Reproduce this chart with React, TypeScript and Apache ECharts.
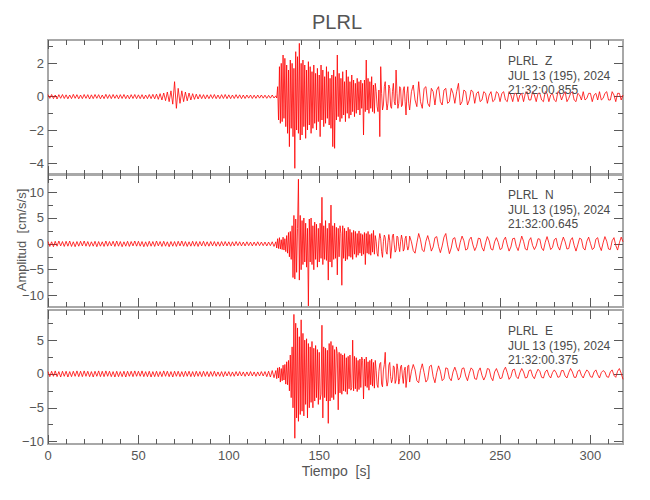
import React, { useEffect, useRef } from "react";
import * as echarts from "echarts";

// ---- data ----
const X_MAX = 318;
const PRE_STEP = 1; // seconds, from t = 0
const STRONG_STEP = 0.5; // seconds, strong motion segment
const CODA_STEP = 1; // seconds, coda segment

const station = "PLRL";
const components = ["Z", "N", "E"];
const dateLabel = "JUL 13 (195), 2024";
const startTimes = ["21:32:00.855", "21:32:00.645", "21:32:00.375"];

const zPre = [
  0.12, -0.1, 0.13, -0.12, 0.1, -0.14, 0.12, -0.1, 0.13, -0.11,
  0.11, -0.13, 0.1, -0.12, 0.14, -0.1, 0.12, -0.13, 0.1, -0.12,
  0.13, -0.1, 0.12, -0.14, 0.11, -0.12, 0.13, -0.1, 0.12, -0.13,
  0.1, -0.12, 0.14, -0.11, 0.12, -0.12, 0.13, -0.1, 0.11, -0.13,
  0.12, -0.11, 0.13, -0.12, 0.1, -0.13, 0.12, -0.11, 0.13, -0.12,
  0.11, -0.12, 0.12, -0.13, 0.1, -0.12, 0.13, -0.12, 0.14, -0.13,
  0.15, -0.16, 0.18, -0.2, 0.22, -0.24, 0.28, -0.3, 0.35, -0.45,
  0.9, -0.7, 0.5, -0.4, 0.35, -0.3, 0.28, -0.25, 0.22, -0.2,
  0.18, -0.16, 0.15, -0.14, 0.13, -0.12, 0.12, -0.13, 0.11, -0.12,
  0.12, -0.11, 0.13, -0.12, 0.1, -0.12, 0.12, -0.11, 0.13, -0.12,
  0.11, -0.12, 0.1, -0.11, 0.12, -0.1, 0.11, -0.12, 0.1, -0.11,
  0.1, -0.09, 0.1, -0.11, 0.09, -0.1, 0.1, -0.09, 0.1, -0.09,
  0.09, -0.1, 0.08, -0.09, 0.1, -0.08,
];
const zStrong = [
  0.05, -0.08, 0.6, -1.4, 1.8, -1.6, 2.0, -1.5, 2.5, -1.3,
  2.3, -1.8, 1.9, -2.2, 1.6, -3.0, 2.2, -1.9, 2.0, -2.4,
  1.7, -4.3, 2.7, -2.0, 2.4, -2.2, 3.2, -2.6, 2.0, -2.3,
  2.2, -1.8, 1.9, -2.5, 1.6, -2.0, 2.1, -1.7, 1.8, -2.2,
  1.5, -1.9, 1.9, -1.6, 1.4, -2.0, 1.7, -1.5, 1.3, -2.4,
  1.9, -1.4, 1.6, -1.8, 1.2, -1.6, 1.8, -1.3, 1.5, -1.7,
  1.1, -1.9, 1.3, -3.0, 1.6, -3.1, 1.2, -1.4, 2.5, -1.2,
  1.4, -1.5, 1.1, -1.3, 1.5, -1.1, 0.9, -1.5, 1.6, -1.0,
  1.2, -1.3, 0.9, -1.1, 1.3, -0.9, 1.0, -1.2, 0.8, -1.0,
  1.1, -0.8, 0.9, -1.1, 1.0, -0.7, 0.8, -2.3, 1.0, -0.9,
  2.2, -0.8, 1.1, -1.0, 0.9, -0.7, 1.2, -0.9, 0.7, -1.0,
  0.8, 0.3, -0.6, -0.9, 0.4, -2.4, 1.8, 0.2, -0.8, -0.5,
  0.6, 0.9, -0.2, -0.8, -0.4, 0.7, 0.5, -0.6, -0.7, 0.3,
  0.8, -0.3, -0.5, 1.6, 0.2, -0.7, -0.4, 0.6, 0.5, -0.6,
  -0.5, 0.4, 0.6, -0.3, -1.1, 0.2, 0.6, -0.4,
];
const zCoda = [
  -0.8, 0.3, 0.7, -0.2, -0.6, 0.9, -0.3, -0.7, 0.5, 0.6,
  -0.4, -0.6, 0.5, 0.3, -0.5, 0.4, 0.6, -0.3, -0.5, 0.4,
  0.5, -0.4, -0.3, 0.5, 0.2, -0.4, 0.3, 0.8, -0.5, -0.3,
  0.4, 0.3, -0.5, -0.2, 0.4, 0.3, -0.4, 0.2, 0.3, -0.3,
  -0.2, 0.3, 0.2, -0.4, 0.1, 0.3, -0.3, -0.2, 0.3, 0.2,
  -0.3, 0.2, 0.3, -0.2, -0.3, 0.3, 0.1, -0.3, 0.2, 0.2,
  -0.3, 0.1, 0.2, -0.3, 0.2, 0.3, -0.2, -0.2, 0.3, 0.1,
  -0.3, 0.2, 0.2, -0.2, -0.3, 0.3, 0.2, -0.3, 0.1, 0.2,
  -0.2, -0.3, 0.3, 0.2, -0.2, 0.1, 0.3, -0.3, -0.1, 0.2,
  0.3, -0.2, -0.3, 0.2, 0.1, -0.2, 0.3, -0.2, -0.1, 0.2,
  0.2, -0.3, 0.1, 0.2, -0.2, 0.3, -0.2, -0.1, 0.2, 0.3,
  -0.2, -0.2, 0.3, 0.1, -0.3, 0.2, 0.2, -0.2, 0.1,
];

const nPre = [
  0.45, -0.5, 0.4, -0.55, 0.5, -0.45, 0.55, -0.4, 0.45, -0.5,
  0.5, -0.45, 0.55, -0.5, 0.4, -0.55, 0.45, -0.45, 0.5, -0.4,
  0.55, -0.45, 0.45, -0.5, 0.4, -0.45, 0.5, -0.55, 0.45, -0.45,
  0.4, -0.5, 0.55, -0.45, 0.45, -0.4, 0.5, -0.5, 0.55, -0.45,
  0.45, -0.55, 0.4, -0.45, 0.5, -0.5, 0.45, -0.4, 0.55, -0.45,
  0.5, -0.45, 0.45, -0.55, 0.4, -0.5, 0.5, -0.45, 0.45, -0.5,
  0.55, -0.4, 0.45, -0.5, 0.5, -0.45, 0.4, -0.55, 0.45, -0.45,
  0.45, -0.5, 0.5, -0.4, 0.55, -0.45, 0.45, -0.5, 0.4, -0.45,
  0.5, -0.45, 0.45, -0.5, 0.45, -0.4, 0.5, -0.45, 0.4, -0.45,
  0.45, -0.4, 0.45, -0.45, 0.4, -0.45, 0.45, -0.4, 0.45, -0.4,
  0.4, -0.45, 0.4, -0.4, 0.45, -0.35, 0.4, -0.4, 0.35, -0.4,
  0.4, -0.35, 0.35, -0.4, 0.35, -0.35, 0.4, -0.35, 0.35, -0.35,
  0.35, -0.4, 0.35, -0.35, 0.4, -0.5,
];
const nStrong = [
  0.4, -0.8, 1.0, -0.9, 1.2, -1.0, 0.8, -1.1, 1.3, -1.2,
  1.0, -1.5, 1.6, -1.8, 2.2, -2.5, 2.4, -3.0, 3.5, -6.5,
  5.5, -6.8, 4.8, -5.5, 3.0, 12.5, -7.0, 5.5, -5.0, 4.5,
  -4.0, 5.0, -3.5, 4.0, -4.5, 3.0, -12.0, 4.8, -3.5, 5.0,
  -4.0, 3.5, -5.0, 4.2, -3.0, 3.8, -4.5, 3.0, -3.5, 4.0,
  -2.8, 9.0, -4.0, 3.5, -3.0, 4.5, -3.2, 3.0, -7.0, 4.0,
  -3.5, 7.5, -4.5, 3.5, -3.0, 4.0, -2.8, 3.2, -6.0, 3.0,
  -2.5, 3.5, 2.0, -8.0, 3.5, -2.8, 3.0, -3.3, 2.5, -3.0,
  3.2, -2.4, 2.8, -2.6, 2.2, -3.0, 2.6, -2.0, 2.4, -2.6,
  2.0, -2.2, 2.5, -1.8, 2.0, -2.3, 1.8, -2.0, 2.2, -4.0,
  2.0, -1.8, 2.4, -2.0, 1.8, -2.2, 2.0, -1.6, 2.6, -2.0,
  1.6, 0.5, -1.8, -2.4, 0.6, 2.0, 1.0, -1.5, -2.6, 0.4,
  1.7, 1.2, -1.5, -2.0, 0.3, 1.8, 0.6, -2.8, -1.0, 1.6,
  1.9, -0.2, -1.6, -1.2, 1.5, 1.3, -0.5, -1.5, 0.4, 1.7,
  0.8, -1.4, -1.0, 1.0, 1.5, -0.3, -1.2, -0.6,
];
const nCoda = [
  1.5, 0.4, -1.3, -1.8, 0.2, 2.0, 0.8, -1.2, -1.5, 0.5,
  1.6, 0.3, -1.4, -0.6, 1.2, 1.4, -0.5, -1.7, -0.4, 1.3,
  2.0, -0.2, -1.9, -0.8, 1.0, 1.2, -0.6, -1.4, 0.3, 1.5,
  0.6, -1.2, -1.0, 0.8, 1.3, -0.2, -1.3, -0.5, 1.1, 1.0,
  -0.7, -1.4, 0.2, 1.4, 0.6, -1.0, -1.2, 0.4, 1.2, 0.3,
  -1.1, -0.9, 0.7, 1.3, -0.2, -1.4, -0.6, 1.0, 1.1, -0.5,
  -1.3, 0.1, 1.5, 0.5, -1.0, -1.2, 0.6, 1.2, -0.3, -1.1,
  -0.4, 1.0, 0.9, -0.8, -1.3, 0.3, 1.4, 0.2, -1.1, -0.7,
  0.8, 1.1, -0.5, -1.2, 0.2, 1.3, 0.4, -1.0, -0.9, 0.7,
  1.2, -0.3, -1.4, -0.2, 1.1, 0.9, -0.8, -1.2, 0.5, 1.3,
  0.1, -1.1, -0.8, 0.9, 1.2, -0.4, -1.3, 0.2, 1.4, 0.5,
  -1.0, -1.1, 0.6, 1.2, -0.3, -1.2, 0.2, 1.3, 0.4,
];

const ePre = [
  0.35, -0.4, 0.4, -0.35, 0.45, -0.4, 0.35, -0.45, 0.4, -0.35,
  0.4, -0.45, 0.35, -0.4, 0.4, -0.35, 0.45, -0.4, 0.4, -0.4,
  0.45, -0.35, 0.4, -0.4, 0.35, -0.45, 0.4, -0.35, 0.45, -0.4,
  0.4, -0.4, 0.45, -0.35, 0.4, -0.4, 0.35, -0.45, 0.4, -0.4,
  0.35, -0.4, 0.4, -0.45, 0.4, -0.35, 0.4, -0.4, 0.45, -0.35,
  0.4, -0.35, 0.45, -0.4, 0.35, -0.4, 0.4, -0.45, 0.35, -0.4,
  0.4, -0.4, 0.35, -0.4, 0.45, -0.35, 0.4, -0.4, 0.35, -0.45,
  0.4, -0.35, 0.4, -0.4, 0.35, -0.4, 0.4, -0.35, 0.4, -0.4,
  0.35, -0.4, 0.4, -0.35, 0.35, -0.4, 0.4, -0.35, 0.35, -0.4,
  0.35, -0.35, 0.4, -0.35, 0.3, -0.35, 0.35, -0.4, 0.35, -0.3,
  0.35, -0.35, 0.3, -0.35, 0.35, -0.3, 0.35, -0.3, 0.3, -0.35,
  0.3, -0.3, 0.35, -0.3, 0.3, -0.35, 0.3, -0.3, 0.35, -0.3,
  0.35, -0.4, 0.4, -0.45, 0.5, -0.55,
];
const eStrong = [
  0.5, -0.7, 0.9, -0.6, 1.0, -1.2, 0.8, -1.0, 1.3, -0.9,
  1.4, -1.5, 1.8, -1.6, 2.0, -2.5, 2.8, -3.5, 4.0, -5.0,
  8.8, -9.5, 7.5, -6.5, 6.8, -7.0, 5.5, -6.0, 8.0, -5.5,
  6.0, -6.2, 5.0, -4.5, 5.2, -6.5, 4.5, -5.0, 4.0, -4.2,
  4.8, -5.0, 3.8, -4.0, 4.2, -3.5, 3.6, -4.5, 3.2, -3.8,
  -3.0, 7.2, -6.5, 4.0, -3.5, 3.8, -4.0, 3.5, -7.3, 4.5,
  -4.0, 4.8, -3.5, 4.2, -3.8, 3.6, -3.0, 4.0, 3.0, -5.3,
  3.2, -2.8, 3.0, -3.0, 2.8, -2.5, 3.0, -2.6, 2.4, -3.0,
  2.6, -2.2, 2.8, -2.4, -2.0, 5.0, -2.5, 2.6, -2.2, 2.4,
  -2.6, 2.0, -2.3, 2.2, -2.0, 2.5, 2.0, -3.7, 2.2, -1.8,
  2.5, -2.0, 1.8, -2.4, 2.0, -1.6, 2.2, -1.8, 1.7, -2.1,
  2.0, 0.5, -1.6, -2.0, 0.4, 1.5, 1.7, -1.5, -1.9, 0.6,
  1.4, 3.2, -0.6, -1.8, -1.2, 1.3, 1.7, -0.4, -1.3, -0.8,
  1.2, 1.0, -1.4, -0.9, 1.5, 0.6, -1.5, -0.7, 1.1, 1.3,
  -0.3, -1.4, 0.5, 1.0, -2.0, -0.6, 1.2, 1.3,
];
const eCoda = [
  -1.2, 0.4, 1.4, 0.6, -1.0, -1.3, 0.5, 1.5, 0.2, -1.2,
  -0.8, 1.1, 1.3, -0.4, -1.3, 0.2, 1.2, 0.4, -1.0, -0.7,
  0.9, 0.8, -0.6, -1.0, 0.3, 1.0, 0.2, -0.9, -0.5, 0.8,
  0.9, -0.3, -1.0, 0.1, 0.9, 0.6, -0.7, -0.8, 0.4, 0.9,
  -0.2, -0.9, -0.3, 0.8, 0.7, -0.5, -1.0, 0.3, 0.8, 0.1,
  -0.7, -0.6, 0.5, 1.0, 0.2, -0.8, -0.4, 0.6, 0.7, -0.4,
  -0.7, 0.2, 0.8, 0.3, -0.6, -0.5, 0.5, 0.6, -0.3, -0.7,
  0.1, 0.7, 0.4, -0.5, -0.6, 0.3, 0.6, -0.2, -0.6, 0.2,
  0.6, 0.2, -0.5, -0.4, 0.5, 0.5, -0.3, -0.6, 0.2, 0.8,
  0.3, -0.5, -0.5, 0.4, 0.6, -0.2, -0.6, 0.1, 0.6, 0.3,
  -0.4, -0.5, 0.3, 0.6, -0.1, -0.6, 0.2, 0.5, 0.3, -0.4,
  -0.5, 0.3, 0.6, -0.2, -0.5, 0.4, 0.8, 0.1, -0.8,
];

// axis ticks and labels
const xMajor = [0, 50, 100, 150, 200, 250, 300];
const xMinor = [10, 20, 30, 40, 60, 70, 80, 90, 110, 120, 130, 140, 160, 170, 180, 190, 210, 220, 230, 240, 260, 270, 280, 290, 310];
const zMajor = [-4, -2, 0, 2];
const zMinor = [-3, -1, 1, 3];
const nMajor = [-10, -5, 0, 5, 10];
const nMinor = [-7.5, -2.5, 2.5, 7.5, 12.5];
const eMajor = [-10, -5, 0, 5];
const eMinor = [-7.5, -2.5, 2.5, 7.5];
const zRange = [-4.7, 3.4];
const nRange = [-12.2, 13.5];
const eRange = [-10.35, 9.45];

const FONT = "'Liberation Sans', Arial, sans-serif";
const TEXT = "#555555";
const FRAME = "#a8a8a8";
const TICK = "#5a5a5a";

function buildTrace(pre: number[], strong: number[], coda: number[]) {
  const pts: number[][] = [];
  let t = 0;
  pre.forEach((v) => { pts.push([t, v]); t += PRE_STEP; });
  strong.forEach((v) => { pts.push([t, v]); t += STRONG_STEP; });
  coda.forEach((v) => { pts.push([t, v]); t += CODA_STEP; });
  return pts;
}

const fmt = (v: number) => String(v).replace("-", "\u2212");

export default function App() {
  const ref = useRef<HTMLDivElement>(null);
  useEffect(() => {
    if (!ref.current) return;
    const chart = echarts.init(ref.current, null, { renderer: "svg" });

    const grids = [
      { left: 48, top: 40, width: 575, height: 135 },
      { left: 48, top: 174, width: 575, height: 133 },
      { left: 48, top: 310, width: 575, height: 134 },
    ];
    const traces = [
      buildTrace(zPre, zStrong, zCoda),
      buildTrace(nPre, nStrong, nCoda),
      buildTrace(ePre, eStrong, eCoda),
    ];
    const yMajors = [zMajor, nMajor, eMajor];
    const yMinors = [zMinor, nMinor, eMinor];
    const yRanges = [zRange, nRange, eRange];

    const xAxes: any[] = [];
    const yAxes: any[] = [];
    const labelStyle = { color: TEXT, fontSize: 13, fontFamily: FONT };
    const noLine = { show: false, onZero: false };
    grids.forEach((_, gi) => {
      const xb = { type: "value", gridIndex: gi, min: 0, max: X_MAX, axisLine: noLine, splitLine: { show: false } };
      const tickMaj = { show: true, inside: true, length: 9, customValues: xMajor, lineStyle: { color: TICK, width: 1 } };
      const tickMin = { show: true, inside: true, length: 5, customValues: xMinor, lineStyle: { color: TICK, width: 1 } };
      xAxes.push({ ...xb, position: "bottom", axisTick: tickMaj, axisLabel: { show: gi === 2, customValues: xMajor, margin: 5, ...labelStyle } });
      xAxes.push({ ...xb, position: "bottom", axisTick: tickMin, axisLabel: { show: false } });
      xAxes.push({ ...xb, position: "top", axisTick: tickMaj, axisLabel: { show: false } });
      xAxes.push({ ...xb, position: "top", axisTick: tickMin, axisLabel: { show: false } });

      const yb = { type: "value", gridIndex: gi, min: yRanges[gi][0], max: yRanges[gi][1], axisLine: noLine, splitLine: { show: false } };
      const yMaj = { show: true, inside: true, length: 9, customValues: yMajors[gi], lineStyle: { color: TICK, width: 1 } };
      const yMin = { show: true, inside: true, length: 5, customValues: yMinors[gi], lineStyle: { color: TICK, width: 1 } };
      yAxes.push({ ...yb, position: "left", axisTick: yMaj, axisLabel: { show: true, customValues: yMajors[gi], margin: 4, formatter: fmt, ...labelStyle } });
      yAxes.push({ ...yb, position: "left", axisTick: yMin, axisLabel: { show: false } });
      yAxes.push({ ...yb, position: "right", axisTick: yMaj, axisLabel: { show: false } });
      yAxes.push({ ...yb, position: "right", axisTick: yMin, axisLabel: { show: false } });
    });

    const graphics: any[] = [
      { type: "text", x: 337, y: 22, style: { text: station, fill: TEXT, font: `20px ${FONT}`, textAlign: "center", textVerticalAlign: "middle" } },
      { type: "text", x: 21, y: 240, rotation: Math.PI / 2, style: { text: "Amplitud  [cm/s/s]", fill: TEXT, font: `13px ${FONT}`, textAlign: "center", textVerticalAlign: "middle" } },
      { type: "text", x: 336, y: 471, style: { text: "Tiempo  [s]", fill: TEXT, font: `14px ${FONT}`, textAlign: "center", textVerticalAlign: "middle" } },
    ];
    grids.forEach((g, gi) => {
      const lines = [
        { x: 508, dy: 21, text: station },
        { x: 545, dy: 21, text: components[gi] },
        { x: 508, dy: 35.5, text: dateLabel },
        { x: 508, dy: 50, text: startTimes[gi] },
      ];
      lines.forEach((l) => {
        graphics.push({ type: "text", x: l.x, y: g.top + l.dy, z: 100, style: { text: l.text, fill: "#4a4a4a", font: `12px ${FONT}`, textAlign: "left", textVerticalAlign: "middle" } });
      });
    });

    chart.setOption({
      animation: false,
      backgroundColor: "#ffffff",
      grid: grids.map((g) => ({ ...g, show: true, borderColor: FRAME, borderWidth: 2, backgroundColor: "transparent" })),
      xAxis: xAxes,
      yAxis: yAxes,
      series: traces.map((data, gi) => ({
        type: "line",
        xAxisIndex: gi * 4,
        yAxisIndex: gi * 4,
        data,
        showSymbol: false,
        symbol: "none",
        lineStyle: { color: "#ff0000", width: 0.8 },
        emphasis: { disabled: true },
        silent: true,
      })),
      graphic: graphics,
    });
    return () => chart.dispose();
  }, []);
  return <div ref={ref} style={{ position: "fixed", left: 0, top: 0, width: 650, height: 500 }} />;
}
